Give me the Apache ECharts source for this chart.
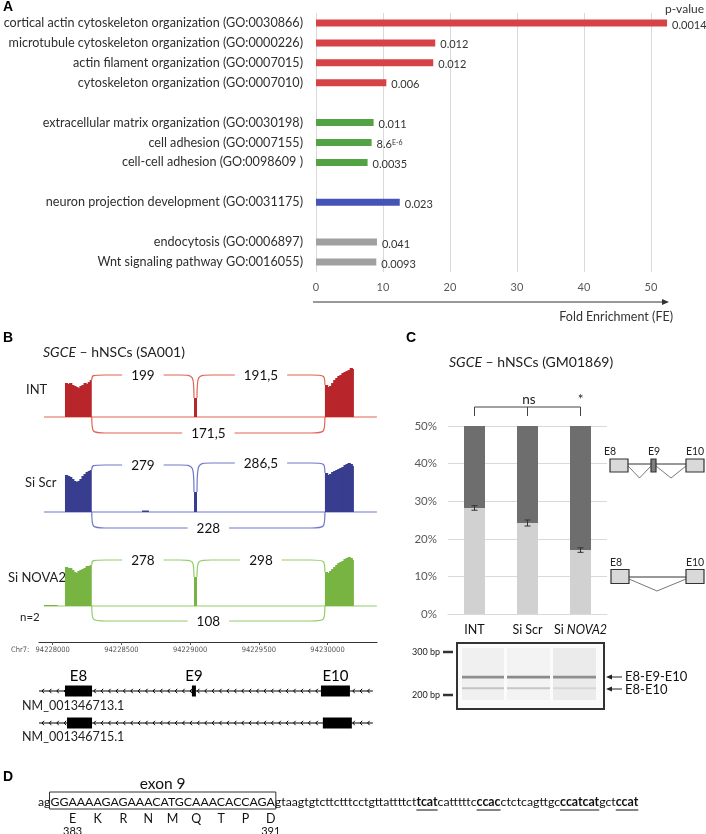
<!DOCTYPE html>
<html><head><meta charset="utf-8">
<script src="https://cdn.jsdelivr.net/npm/echarts@6/dist/echarts.min.js"></script>
<style>html,body{margin:0;padding:0;background:#fff}#main{width:706px;height:834px}</style>
</head><body><div id="main"></div>
<script>
// ---------------- Panel A data ----------------
const goTerms = ['cortical actin cytoskeleton organization (GO:0030866)','microtubule cytoskeleton organization (GO:0000226)','actin filament organization (GO:0007015)','cytoskeleton organization (GO:0007010)','','extracellular matrix organization (GO:0030198)','cell adhesion (GO:0007155)','cell-cell adhesion (GO:0098609 )','','neuron projection development (GO:0031175)','','endocytosis (GO:0006897)','Wnt signaling pathway GO:0016055)'];
const foldEnrichment = [52.4, 17.8, 17.5, 10.5, null, 8.6, 8.3, 7.7, null, 12.5, null, 9.1, 9.0];
const pValues = ['0.0014','0.012','0.012','0.006','','0.011','8.6E-6','0.0035','','0.023','','0.041','0.0093'];
const termGroups = ['cyto','cyto','cyto','cyto','','adh','adh','adh','','neuron','','other','other'];
const feTicks = [0,10,20,30,40,50];

// ---------------- Panel B data ----------------
const sashimiSamples = ['INT','Si Scr','Si NOVA2'];
const trackExtent = [[94227936,0],[94230359,0]];
// coverage steps: [position, read depth from this position to the next one]
const coverageINT = [[94228089,34],[94228104,33],[94228119,34],[94228134,32],[94228149,31],[94228164,30],[94228179,29],[94228194,31],[94228209,32],[94228224,34],[94228239,33],[94228254,35],[94228269,37],[94228284,0],
  [94229028,19],[94229050,0],
  [94229981,32],[94229996,30],[94230011,31],[94230026,34],[94230041,37],[94230056,39],[94230071,41],[94230086,42],[94230101,44],[94230116,45],[94230131,46],[94230146,47],[94230161,49],[94230176,48],[94230192,0]];
const coverageScr = [[94228089,37],[94228104,36],[94228119,35],[94228134,33],[94228149,31],[94228164,30],[94228179,31],[94228194,33],[94228209,36],[94228224,38],[94228239,40],[94228254,41],[94228269,42],[94228284,0],
  [94228650,1.5],[94228700,0],
  [94229028,20],[94229050,0],
  [94229981,39],[94229996,37],[94230011,38],[94230026,40],[94230041,41],[94230056,42],[94230071,43],[94230086,44],[94230101,45],[94230116,47],[94230131,48],[94230146,49],[94230161,48],[94230176,46],[94230192,0]];
const coverageNOVA2 = [[94227936,1],[94228035,0],
  [94228089,39],[94228104,38],[94228119,38],[94228134,36],[94228149,34],[94228164,33],[94228179,35],[94228194,36],[94228209,37],[94228224,38],[94228239,40],[94228254,40],[94228269,41],[94228284,0],
  [94229028,29],[94229050,0],
  [94229981,34],[94229996,33],[94230011,35],[94230026,37],[94230041,39],[94230056,41],[94230071,43],[94230086,44],[94230101,45],[94230116,47],[94230131,48],[94230146,49],[94230161,48],[94230176,46],[94230192,0]];
// junction: [start, end, depth at start, depth at end, arc apex]
const junctionsINT = [[94228284,94229028,37,19,42],[94229050,94229981,19,32,42],[94228284,94229981,0,0,-16]];
const junctionCountsINT = ['199','191,5','171,5'];
const junctionsScr = [[94228284,94229028,42,20,47],[94229050,94229981,20,39,49],[94228284,94229981,0,0,-16]];
const junctionCountsScr = ['279','286,5','228'];
const junctionsNOVA2 = [[94228284,94229028,41,29,46],[94229050,94229981,29,34,46],[94228284,94229981,0,0,-15]];
const junctionCountsNOVA2 = ['278','298','108'];
const chrTicks = [94228000,94228500,94229000,94229500,94230000];
const transcripts = ['NM_001346713.1','NM_001346715.1'];
const transcriptStart = 94227900, transcriptEnd = 94230330;
const exonNames = ['E8','E9','E10','E8','E10'];
const exonStarts = [94228089,94229013,94229952,94228104,94229966];
const exonEnds = [94228286,94229042,94230163,94228286,94230177];
const exonRows = [0,0,0,1,1];

// ---------------- Panel C data ----------------
const conditions = ['INT','Si Scr','Si NOVA2'];
const skippedPct = [28.2, 24.2, 17.0];      // light grey (E8-E10)
const includedPct = [21.8, 25.8, 33.0];     // dark grey (E8-E9-E10)
const ciLow = [27.6, 23.4, 16.4];
const ciHigh = [28.8, 25.0, 17.6];
const pctTicks = [0,10,20,30,40,50];
const significance = ['ns','*'];

// ---------------- Panel D data ----------------
const seqPrefix = 'ag';
const exonSeq = 'GGAAAAGAGAAACATGCAAACACCAGA';
const intronParts = ['gtaagtgtcttctttcctgttattttct','tcat','catttttc','ccac','ctctcagttgc','ccatcat','gct','ccat'];
const intronMotif = [false,true,false,true,false,true,false,true];
const aminoAcids = ['E','K','R','N','M','Q','T','P','D'];
const aaNumbers = ['383','391'];

// ---------------- styles ----------------
const groupColors = {cyto:'#d64346', adh:'#53a244', neuron:'#4455b7', other:'#a0a0a0'};
const trackFill = ['#b8262b','#383d8f','#78b442'];
const trackLine = ['#e06452','#6f78c9','#93cc6a'];
const FONT = 'Lato';
const gx = {min:94227900, max:94230360};

const chart = echarts.init(document.getElementById('main'), null, {renderer:'canvas'});

function covRenderer(arr, color){
  return function(params, api){
    const i=params.dataIndex; if(i>=arr.length-1) return null;
    const d=api.value(1); if(!(d>0)) return null;
    const a=api.coord([api.value(0), d]); const b=api.coord([arr[i+1][0], 0]);
    const last = !(arr[i+1][1]>0);
    return {type:'rect', shape:{x:a[0], y:a[1], width:b[0]-a[0]+(last?0:1.2), height:b[1]-a[1]}, style:{fill:color}};
  };
}
function arcRenderer(counts, color){
  return function(params, api){
    const s=api.value(0), e=api.value(1), ys=api.value(2), ye=api.value(3), ya=api.value(4);
    const p1=api.coord([s,ys]), p2=api.coord([e,ye]); const ay=api.coord([s,ya])[1];
    const span=p2[0]-p1[0]; const r=Math.min(14, span*0.16);
    const d=`M${p1[0]} ${p1[1]} C${p1[0]} ${ay} ${p1[0]} ${ay} ${p1[0]+r} ${ay} L${p2[0]-r} ${ay} C${p2[0]} ${ay} ${p2[0]} ${ay} ${p2[0]} ${p2[1]}`;
    return {type:'group', children:[
      {type:'path', shape:{pathData:d}, style:{stroke:color, lineWidth:1.2, fill:null}},
      {type:'text', style:{text:counts[params.dataIndex], x:(p1[0]+p2[0])/2, y:ay+1, align:'center', verticalAlign:'middle', font:'13.5px '+FONT, fill:'#111', backgroundColor:'#fff', padding:[1,9]}}
    ]};
  };
}
function renderTranscript(params, api){
  const s=api.value(0), e=api.value(1), row=api.value(2);
  const p1=api.coord([s,row]), p2=api.coord([e,row]);
  const ch=[{type:'line', shape:{x1:p1[0],y1:p1[1],x2:p2[0],y2:p2[1]}, style:{stroke:'#000', lineWidth:1}}];
  for(let x=p1[0]+3; x<p2[0]-2; x+=7.4){
    ch.push({type:'polyline', shape:{points:[[x+2,p1[1]-2.2],[x,p1[1]],[x+2,p1[1]+2.2]]}, style:{stroke:'#000', lineWidth:1, fill:null}});
  }
  return {type:'group', children:ch};
}
function renderExon(params, api){
  const s=api.value(0), e=api.value(1), row=api.value(2);
  const p1=api.coord([s,row]), p2=api.coord([e,row]);
  const w=Math.max(4,p2[0]-p1[0]);
  const ch=[{type:'rect', shape:{x:p1[0], y:p1[1]-5.5, width:w, height:11}, style:{fill:'#000'}}];
  if(row===0) ch.push({type:'text', style:{text:exonNames[params.dataIndex], x:p1[0]+w/2, y:p1[1]-15, align:'center', verticalAlign:'middle', font:'15px '+FONT, fill:'#000'}});
  return {type:'group', children:ch};
}
function renderErr(params, api){
  const a=api.coord([api.value(0), api.value(1)]), b=api.coord([api.value(0), api.value(2)]);
  const c=3;
  return {type:'group', children:[
    {type:'line', shape:{x1:a[0],y1:a[1],x2:b[0],y2:b[1]}, style:{stroke:'#333', lineWidth:1}},
    {type:'line', shape:{x1:a[0]-c,y1:a[1],x2:a[0]+c,y2:a[1]}, style:{stroke:'#333', lineWidth:1}},
    {type:'line', shape:{x1:b[0]-c,y1:b[1],x2:b[0]+c,y2:b[1]}, style:{stroke:'#333', lineWidth:1}}
  ]};
}

const trackBaselines = [417, 512, 606];
const grids = [{left:316, top:13, width:368.5, height:259}];
trackBaselines.forEach(b=>grids.push({left:39, width:338, top:b-55, height:75}));
grids.push({left:39, width:338, top:622, height:20});
grids.push({left:39, width:338, top:675, height:80});
grids.push({left:448, width:159, top:426, height:188});

const xAxes = [
  {gridIndex:0, type:'value', min:0, max:55, interval:10,
   axisLine:{show:false}, axisTick:{show:false},
   axisLabel:{showMaxLabel:false, fontFamily:FONT, fontSize:11, color:'#595959', margin:10},
   splitLine:{show:true, showMaxLine:false, lineStyle:{color:'#d9d9d9', width:1}}}
];
for(let i=1;i<=3;i++) xAxes.push({gridIndex:i, type:'value', min:gx.min, max:gx.max, show:false});
xAxes.push({gridIndex:4, type:'value', min:gx.min, max:gx.max, position:'bottom',
  axisLine:{show:true, lineStyle:{color:'#333', width:1}},
  axisTick:{show:true, customValues:chrTicks, length:3, lineStyle:{color:'#555'}},
  axisLabel:{customValues:chrTicks, formatter:v=>String(v), fontFamily:'DejaVu Sans Condensed, Liberation Sans, sans-serif', fontSize:7.5, color:'#555', margin:4},
  splitLine:{show:false}});
xAxes.push({gridIndex:5, type:'value', min:gx.min, max:gx.max, show:false});
xAxes.push({gridIndex:6, type:'category', data:conditions,
  axisLine:{show:true, lineStyle:{color:'#d9d9d9'}}, axisTick:{show:false},
  axisLabel:{interval:0, margin:9, fontFamily:FONT, fontSize:12.5, color:'#111',
    formatter:v=>v==='Si NOVA2'?'Si {i|NOVA2}':v,
    rich:{i:{fontStyle:'italic', fontFamily:FONT, fontSize:12.5, color:'#111'}}}});

const yAxes = [
  {gridIndex:0, type:'category', inverse:true, data:goTerms.map((t,i)=>t||' '.repeat(i+1)),
   axisLine:{show:false}, axisTick:{show:false},
   axisLabel:{interval:0, margin:13, fontFamily:FONT, fontSize:12.6, color:'#2e2e2e'}}
];
for(let i=1;i<=3;i++) yAxes.push({gridIndex:i, type:'value', min:-20, max:55, show:false});
yAxes.push({gridIndex:4, type:'value', min:0, max:1, show:false});
yAxes.push({gridIndex:5, type:'value', min:-0.5, max:2, inverse:true, show:false});
yAxes.push({gridIndex:6, type:'value', min:0, max:50, interval:10,
  axisLine:{show:false}, axisTick:{show:false},
  axisLabel:{formatter:'{value}%', fontFamily:FONT, fontSize:11.5, color:'#595959', margin:11},
  splitLine:{lineStyle:{color:'#d9d9d9'}}});

const series = [
  {type:'bar', xAxisIndex:0, yAxisIndex:0, barWidth:7,
   data:foldEnrichment.map((v,i)=>v==null?null:{value:v, itemStyle:{color:groupColors[termGroups[i]]}}),
   label:{show:true, position:'right', distance:5, offset:[0,2], fontFamily:FONT, fontSize:11, color:'#333',
     formatter:p=>{const s=pValues[p.dataIndex]; if(s.indexOf('E')>0){const k=s.indexOf('E'); return s.slice(0,k)+'{sup|'+s.slice(k)+'}';} return s;},
     rich:{sup:{fontSize:7, fontFamily:FONT, color:'#333', verticalAlign:'top'}}}}
];
const covs=[coverageINT,coverageScr,coverageNOVA2];
const juncs=[junctionsINT,junctionsScr,junctionsNOVA2];
const jc=[junctionCountsINT,junctionCountsScr,junctionCountsNOVA2];
for(let i=0;i<3;i++){
  series.push({type:'line', xAxisIndex:i+1, yAxisIndex:i+1, data:trackExtent, showSymbol:false, z:2,
    lineStyle:{color:trackLine[i], width:1.2}});
  series.push({type:'custom', xAxisIndex:i+1, yAxisIndex:i+1, data:covs[i], z:3,
    renderItem:covRenderer(covs[i], trackFill[i]), encode:{x:0, y:1}});
  series.push({type:'custom', xAxisIndex:i+1, yAxisIndex:i+1, data:juncs[i], z:4,
    renderItem:arcRenderer(jc[i], trackLine[i]), encode:{x:[0,1], y:[2,3,4]}});
}
series.push({type:'custom', xAxisIndex:5, yAxisIndex:5, z:2,
  data:transcripts.map((t,i)=>[transcriptStart, transcriptEnd, i]), renderItem:renderTranscript, encode:{x:[0,1], y:2}});
series.push({type:'custom', xAxisIndex:5, yAxisIndex:5, z:3,
  data:exonStarts.map((s,i)=>[s, exonEnds[i], exonRows[i]]), renderItem:renderExon, encode:{x:[0,1], y:2}});
series.push({type:'bar', xAxisIndex:6, yAxisIndex:6, stack:'psi', barWidth:21, data:skippedPct, itemStyle:{color:'#d1d1d1'}});
series.push({type:'bar', xAxisIndex:6, yAxisIndex:6, stack:'psi', barWidth:21, data:includedPct, itemStyle:{color:'#6e6e6e'}});
series.push({type:'custom', xAxisIndex:6, yAxisIndex:6, z:5, data:ciLow.map((l,i)=>[i,l,ciHigh[i]]), renderItem:renderErr, encode:{x:0, y:[1,2]}});

// ---------------- graphics ----------------
const G = [];
function txt(x,y,text,font,opts){G.push({type:'text', x:x, y:y, style:Object.assign({text:text, font:font, fill:'#222', verticalAlign:'middle', align:'left'}, opts||{})});}
function line(x1,y1,x2,y2,color,w){G.push({type:'line', shape:{x1,y1,x2,y2}, style:{stroke:color||'#333', lineWidth:w||1}});}
function rect(x,y,w,h,fill,stroke,lw){G.push({type:'rect', shape:{x,y,width:w,height:h}, style:{fill:fill, stroke:stroke||null, lineWidth:lw||0}});}

// Panel A
txt(3,7,'A','bold 14px Liberation Sans',{fill:'#000'});
txt(704,9,'p-value','12px '+FONT,{align:'right', fill:'#333'});
line(313,302,663,302,'#333',1);
G.push({type:'polygon', shape:{points:[[669,302],[662,299],[662,305]]}, style:{fill:'#333'}});
txt(673,317,'Fold Enrichment (FE)','12.5px '+FONT,{align:'right', fill:'#333'});

// Panel B
txt(3,338,'B','bold 14px Liberation Sans',{fill:'#000'});
G.push({type:'text', x:43, y:352, style:{text:'{i|SGCE} – hNSCs (SA001)', font:'14px '+FONT, fill:'#222', verticalAlign:'middle', rich:{i:{fontStyle:'italic', fontFamily:FONT, fontSize:14, fill:'#222'}}}});
txt(26,390,sashimiSamples[0],'13px '+FONT);
txt(25,483,sashimiSamples[1],'13px '+FONT);
txt(8,578,sashimiSamples[2],'13px '+FONT);
txt(20,617,'n=2','11.5px '+FONT);
txt(11,650,'Chr7:','7.5px DejaVu Sans Condensed, Liberation Sans, sans-serif',{fill:'#555'});
txt(22,706,transcripts[0],'12.5px '+FONT);
txt(22,737,transcripts[1],'12.5px '+FONT);

// Panel C
txt(406,338,'C','bold 14px Liberation Sans',{fill:'#000'});
G.push({type:'text', x:449, y:362, style:{text:'{i|SGCE} – hNSCs (GM01869)', font:'14px '+FONT, fill:'#222', verticalAlign:'middle', rich:{i:{fontStyle:'italic', fontFamily:FONT, fontSize:14, fill:'#222'}}}});
const bx=[474.5,527.5,580.5];
line(bx[0],407,bx[2],407,'#444',1);
bx.forEach(x=>line(x,407,x,416,'#444',1));
txt(529,400,significance[0],'13.5px '+FONT,{align:'center'});
txt(580.5,400,significance[1],'13.5px '+FONT,{align:'center'});
// exon diagrams
txt(604,452,'E8','10.5px '+FONT); txt(654,452,'E9','10.5px '+FONT,{align:'center'}); txt(695,452,'E10','10.5px '+FONT,{align:'center'});
line(628,464,651,464,'#333',1); line(656,464,686,464,'#333',1);
G.push({type:'polyline', shape:{points:[[628,466],[639.5,478],[651,466]]}, style:{stroke:'#555', lineWidth:0.8, fill:null}});
G.push({type:'polyline', shape:{points:[[656,466],[671,478],[686,466]]}, style:{stroke:'#555', lineWidth:0.8, fill:null}});
rect(610,459,18,13,'#d9d9d9','#333',1.2); rect(651,459,5,13,'#7f7f7f','#333',1.2); rect(686,459,18,13,'#d9d9d9','#333',1.2);
txt(610,563,'E8','10.5px '+FONT); txt(695,563,'E10','10.5px '+FONT,{align:'center'});
line(629,577,686,577,'#333',1);
G.push({type:'polyline', shape:{points:[[629,579],[657,591],[686,579]]}, style:{stroke:'#555', lineWidth:0.8, fill:null}});
rect(611,569.5,18,14,'#d9d9d9','#333',1.2); rect(686,569.5,18,14,'#d9d9d9','#333',1.2);
// gel
rect(457,643,147,66,'#fbfbfb','#333',2);
const lanes=[[462,504,'#f0f0f0'],[507,550,'#f3f3f3'],[553,596,'#ebebeb']];
lanes.forEach(l=>rect(l[0],648,l[1]-l[0],52,l[2]));
const upperBand=['#8e8e8e','#8a8a8a','#8f8f8f'], lowerBand=['#c3c3c3','#c6c6c6','#d6d6d6'];
lanes.forEach((l,i)=>{rect(l[0],675.8,l[1]-l[0],2.6,upperBand[i]); rect(l[0],687.2,l[1]-l[0],2,lowerBand[i]);});
txt(440,652,'300 bp','9px '+FONT,{align:'right'}); line(443,652,453,652,'#333',2.5);
txt(440,695,'200 bp','9px '+FONT,{align:'right'}); line(443,695,453,695,'#333',2.5);
line(611,677,622,677,'#222',1); G.push({type:'polygon', shape:{points:[[606,677],[612,674.5],[612,679.5]]}, style:{fill:'#222'}});
line(611,689,622,689,'#222',1); G.push({type:'polygon', shape:{points:[[606,689],[612,686.5],[612,691.5]]}, style:{fill:'#222'}});
txt(625,677,'E8-E9-E10','13px '+FONT,{fill:'#111'});
txt(625,690,'E8-E10','13px '+FONT,{fill:'#111'});

// Panel D
txt(3,777,'D','bold 14px Liberation Sans',{fill:'#000'});
const cv=document.createElement('canvas').getContext('2d');
function tw(t,f){cv.font=f;return cv.measureText(t).width;}
let fs=13;
const fullW=()=>tw(seqPrefix+exonSeq,fs+'px '+FONT)+intronParts.reduce((a,p,i)=>a+tw(p,(intronMotif[i]?'bold ':'')+fs+'px '+FONT),0);
fs = 13*601/fullW();
const nf=fs+'px '+FONT, bf='bold '+fs+'px '+FONT;
let cx=38; const sy=802;
txt(cx,sy,seqPrefix,nf,{fill:'#111'}); cx+=tw(seqPrefix,nf);
const exX0=cx; txt(cx,sy,exonSeq,nf,{fill:'#111'}); const exX1=cx+tw(exonSeq,nf); cx=exX1;
rect(exX0-1,792,exX1-exX0+2,17,null,'#333',1);
G.push({type:'text', x:(exX0+exX1)/2, y:784, style:{text:'exon 9', font:'15.5px '+FONT, fill:'#111', align:'center', verticalAlign:'middle'}});
intronParts.forEach((p,i)=>{const f=intronMotif[i]?bf:nf; const w=tw(p,f); txt(cx,sy,p,f,{fill:'#111'}); if(intronMotif[i]) line(cx,sy+8,cx+w,sy+8,'#666',1.6); cx+=w;});
aminoAcids.forEach((a,i)=>{const k=1+3*i+1; const x=exX0+tw(exonSeq.slice(0,k),nf)+tw(exonSeq[k],nf)/2; txt(x,819,a,'12.5px '+FONT,{align:'center', fill:'#111'}); if(i===0) txt(x,831,aaNumbers[0],'11px '+FONT,{align:'center', fill:'#111'}); if(i===aminoAcids.length-1) txt(x,831,aaNumbers[1],'11px '+FONT,{align:'center', fill:'#111'});});

chart.setOption({animation:false, backgroundColor:'#fff', grid:grids, xAxis:xAxes, yAxis:yAxes, series:series, graphic:{elements:G}});
</script></body></html>
